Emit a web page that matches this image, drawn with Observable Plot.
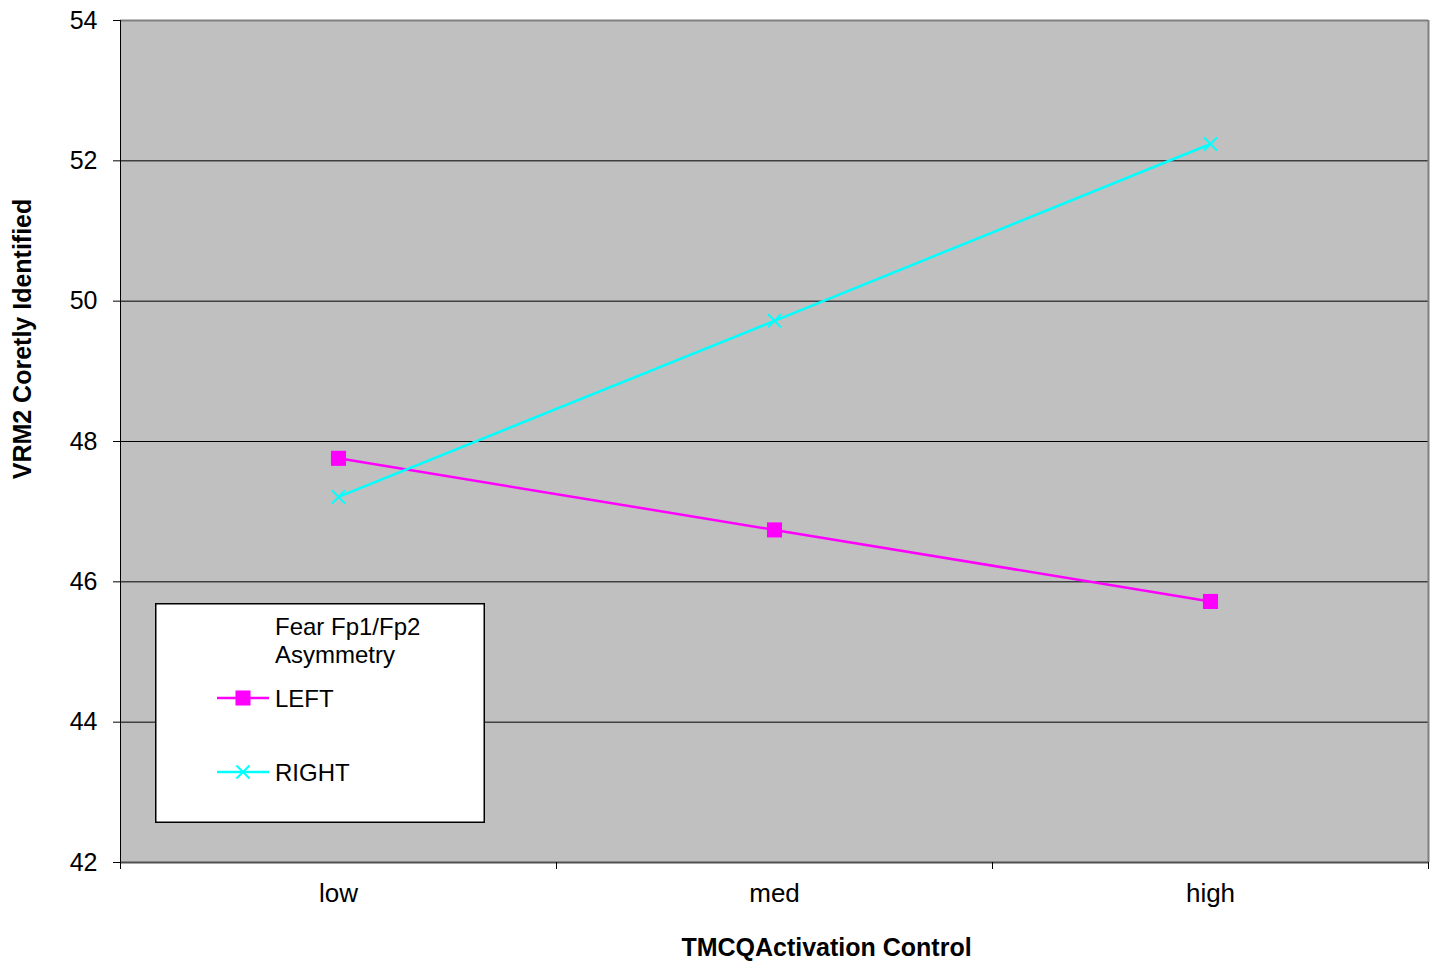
<!DOCTYPE html>
<html>
<head>
<meta charset="utf-8">
<script src="https://cdn.jsdelivr.net/npm/d3@7"></script>
<script src="https://cdn.jsdelivr.net/npm/@observablehq/plot@0.6"></script>
<style>
  html, body { margin: 0; padding: 0; background: #fff; }
  #chart { position: relative; width: 1435px; height: 965px; font-family: "Liberation Sans", Arial, sans-serif; }
  #legend { position: absolute; left: 155px; top: 603px; }
  #legend svg { display: block; font-family: "Liberation Sans", Arial, sans-serif; }
</style>
</head>
<body>
<div id="chart"></div>
<script>
// Activation-control groups on the x axis
const categories = ["low", "med", "high"];
// Asymmetry groups
const seriesNames = ["LEFT", "RIGHT"];
const seriesColors = ["#ff00ff", "#00ffff"];
// Mean VRM2 scores per group
const leftValues = [47.76, 46.74, 45.72];
const rightValues = [47.21, 49.72, 52.24];
// Axis ticks and text
const yTicks = [42, 44, 46, 48, 50, 52, 54];
const xTitle = "TMCQActivation Control";
const yTitle = "VRM2 Coretly Identified";
const legendTitle = ["Fear Fp1/Fp2", "Asymmetry"];

const rows = [
  ...categories.map((c, i) => ({series: "LEFT", cat: c, value: leftValues[i]})),
  ...categories.map((c, i) => ({series: "RIGHT", cat: c, value: rightValues[i]}))
];
// each category sits in the middle of its slot on a 0..3 axis
const xPos = d => categories.indexOf(d.cat) + 0.5;

const font = '"Liberation Sans", Arial, sans-serif';

const plot = Plot.plot({
  width: 1435,
  height: 965,
  marginLeft: 120,
  marginRight: 7,
  marginTop: 20,
  marginBottom: 103,
  style: {fontFamily: font, fontSize: "25px", color: "#000", background: "transparent", overflow: "visible"},
  x: {domain: [0, categories.length]},
  y: {domain: [yTicks[0], yTicks[yTicks.length - 1]]},
  color: {domain: seriesNames, range: seriesColors},
  marks: [
    Plot.frame({fill: "#c0c0c0", stroke: null}),
    Plot.ruleY(yTicks.slice(1, -1), {stroke: "#000", strokeWidth: 1}),
    Plot.ruleY([yTicks[yTicks.length - 1]], {stroke: "#808080", strokeWidth: 2}),
    Plot.ruleX([categories.length], {stroke: "#808080", strokeWidth: 2}),
    Plot.ruleY([yTicks[0]], {stroke: "#505050", strokeWidth: 2}),
    Plot.ruleX([0], {stroke: "#000", strokeWidth: 1}),
    Plot.axisY({ticks: yTicks, tickSize: 7, tickPadding: 16, tickFormat: d => String(d), label: null, fontSize: 25}),
    Plot.axisX({ticks: d3.range(categories.length + 1), tickSize: 7, tickFormat: () => "", label: null}),
    Plot.axisX({ticks: categories.map((c, i) => i + 0.5), tickSize: 0, tickPadding: 21,
      tickFormat: v => categories[Math.floor(v)], label: null, fontSize: 26}),
    Plot.line(rows, {x: xPos, y: "value", z: "series", stroke: "series", strokeWidth: 2.5}),
    Plot.dot(rows.filter(d => d.series === "LEFT"), {x: xPos, y: "value", symbol: "square", r: 8.5, fill: "series", stroke: null}),
    Plot.dot(rows.filter(d => d.series === "RIGHT"), {x: xPos, y: "value", symbol: "times", r: 6, stroke: "series", strokeWidth: 2}),
    Plot.text([yTitle], {text: d => d, frameAnchor: "left", dx: -98, dy: -102.5, rotate: -90,
      textAnchor: "middle", lineAnchor: "middle", fontWeight: "bold", fontSize: 25, fill: "#000"}),
    Plot.text([xTitle], {text: d => d, frameAnchor: "bottom", dx: 52, dy: 85,
      textAnchor: "middle", lineAnchor: "middle", fontWeight: "bold", fontSize: 25, fill: "#000"})
  ]
});
document.getElementById("chart").appendChild(plot);

// Legend box drawn over the plot area
const legend = d3.select("#chart").append("div").attr("id", "legend");
const lsvg = legend.append("svg").attr("width", 330).attr("height", 220);
lsvg.append("rect")
  .attr("x", 0.75).attr("y", 0.75).attr("width", 328.5).attr("height", 218.5)
  .attr("fill", "#fff").attr("stroke", "#000").attr("stroke-width", 1.5);
lsvg.selectAll("text.title").data(legendTitle).join("text")
  .attr("class", "title")
  .attr("x", 120).attr("y", (d, i) => 32 + i * 28)
  .attr("font-size", 24).attr("fill", "#000")
  .text(d => d);

const entryY = [95, 169];
const symbolSize = r => Math.PI * r * r;
seriesNames.forEach((name, i) => {
  const g = lsvg.append("g").attr("transform", `translate(0,${entryY[i]})`);
  g.append("line").attr("x1", 62).attr("x2", 114).attr("y1", 0).attr("y2", 0)
    .attr("stroke", seriesColors[i]).attr("stroke-width", 2.5);
  if (name === "LEFT") {
    g.append("path").attr("transform", "translate(88,0)")
      .attr("d", d3.symbol(d3.symbolSquare, symbolSize(8.5))())
      .attr("fill", seriesColors[i]);
  } else {
    g.append("path").attr("transform", "translate(88,0)")
      .attr("d", d3.symbol(d3.symbolTimes, symbolSize(6))())
      .attr("fill", "none").attr("stroke", seriesColors[i]).attr("stroke-width", 2);
  }
  g.append("text").attr("x", 120).attr("y", 9)
    .attr("font-size", 24).attr("fill", "#000")
    .text(name);
});
</script>
</body>
</html>
